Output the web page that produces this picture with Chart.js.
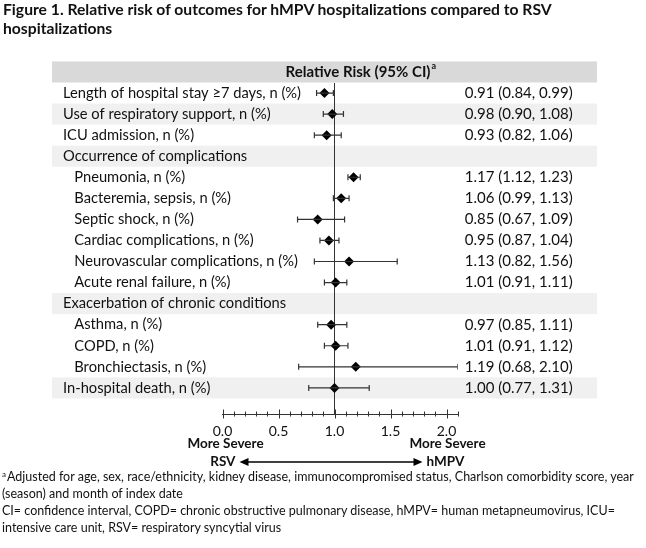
<!DOCTYPE html>
<html>
<head>
<meta charset="utf-8">
<script src="https://cdn.jsdelivr.net/npm/chart.js@4.4.1/dist/chart.umd.min.js"></script>
<style>
  html, body { margin: 0; padding: 0; background: #fff; }
  body { width: 646px; height: 548px; position: relative; overflow: hidden; font-family: Lato, sans-serif; color: #111; }
  #wrap { position: absolute; left: 0; top: 0; width: 646px; height: 548px; }
  #title { position: absolute; left: 3px; top: 0px; width: 640px; font-weight: bold; font-size: 15.7px; line-height: 19px; }
  #notes { position: absolute; left: 2px; top: 467.5px; width: 644px; font-size: 12.5px; line-height: 17.3px; white-space: nowrap; }
  #notes sup { font-size: 8px; vertical-align: 4px; line-height: 0; margin-right: 1px; }
</style>
</head>
<body>
<div id="wrap"><canvas id="forest" width="646" height="548"></canvas></div>
<div id="title">Figure 1. Relative risk of outcomes for hMPV hospitalizations compared to RSV<br>hospitalizations</div>
<div id="notes"><sup>a</sup>Adjusted for age, sex, race/ethnicity, kidney disease, immunocompromised status, Charlson comorbidity score, year<br>(season) and month of index date<br>CI= confidence interval, COPD= chronic obstructive pulmonary disease, hMPV= human metapneumovirus, ICU=<br>intensive care unit, RSV= respiratory syncytial virus</div>
<script>
// Lignes du tableau (de haut en bas)
const rowLabels = [
  "Length of hospital stay \u22657 days, n (%)",
  "Use of respiratory support, n (%)",
  "ICU admission, n (%)",
  "Occurrence of complications",
  "Pneumonia, n (%)",
  "Bacteremia, sepsis, n (%)",
  "Septic shock, n (%)",
  "Cardiac complications, n (%)",
  "Neurovascular complications, n (%)",
  "Acute renal failure, n (%)",
  "Exacerbation of chronic conditions",
  "Asthma, n (%)",
  "COPD, n (%)",
  "Bronchiectasis, n (%)",
  "In-hospital death, n (%)"
];
const indented = [0, 0, 0, 0, 1, 1, 1, 1, 1, 1, 0, 1, 1, 1, 0];
const shadedRows = [1, 3, 10, 14];
const rr     = [0.91, 0.98, 0.93, null, 1.17, 1.06, 0.85, 0.95, 1.13, 1.01, null, 0.97, 1.01, 1.19, 1.00];
const ciLow  = [0.84, 0.90, 0.82, null, 1.12, 0.99, 0.67, 0.87, 0.82, 0.91, null, 0.85, 0.91, 0.68, 0.77];
const ciHigh = [0.99, 1.08, 1.06, null, 1.23, 1.13, 1.09, 1.04, 1.56, 1.11, null, 1.11, 1.12, 2.10, 1.31];
const xMin = 0, xMax = 2.1;

const INK = "#111";
const LINE = "#333";
const FONT = "Lato";

function ciText(i) {
  if (rr[i] == null) return "";
  return `${rr[i].toFixed(2)} (${ciLow[i].toFixed(2)}, ${ciHigh[i].toFixed(2)})`;
}

// segments IC, séparés par des trous
const ciSegments = [];
const capPoints = [];
const rrPoints = [];
rr.forEach((v, i) => {
  if (v == null) return;
  ciSegments.push({ x: ciLow[i], y: i }, { x: ciHigh[i], y: i }, { x: null, y: null });
  capPoints.push({ x: ciLow[i], y: i }, { x: ciHigh[i], y: i });
  rrPoints.push({ x: v, y: i });
});

function rowTicks(scale) {
  scale.ticks = rowLabels.map((_, i) => ({ value: i }));
}

// Fond des lignes, en-tête, graduations et légende de l'axe
const tablePlugin = {
  id: "tableDeco",
  afterLayout(chart) {
    // laisse les libellés déborder à droite de l'axe gauche (pas de rognage)
    chart.scales.y.right = chart.width;
  },
  beforeDraw(chart) {
    const { ctx } = chart;
    const y = chart.scales.y;
    const left = 52, right = 597;
    ctx.save();
    ctx.fillStyle = "#d9d9d9";
    const hTop = y.getPixelForValue(-1.5), hBot = y.getPixelForValue(-0.5);
    ctx.fillRect(left, hTop, right - left, hBot - hTop);
    ctx.fillStyle = "#f0f0f0";
    shadedRows.forEach(i => {
      const t = y.getPixelForValue(i - 0.5), b = y.getPixelForValue(i + 0.5);
      ctx.fillRect(left, t, right - left, b - t);
    });
    ctx.restore();
  },
  afterDraw(chart) {
    const { ctx } = chart;
    const x = chart.scales.x, y = chart.scales.y;
    ctx.save();
    // en-tête
    const hy = y.getPixelForValue(-1);
    ctx.fillStyle = INK;
    ctx.textBaseline = "middle";
    ctx.font = `bold 15px ${FONT}`;
    const head = "Relative Risk (95% CI)";
    const w = ctx.measureText(head).width;
    const cx = 361;
    ctx.textAlign = "left";
    ctx.fillText(head, cx - w / 2 - 3, hy);
    ctx.font = `bold 9px ${FONT}`;
    ctx.fillText("a", cx + w / 2 - 2, hy - 6);

    // graduations qui croisent l'axe
    const base = x.top;
    ctx.strokeStyle = LINE;
    ctx.lineWidth = 1;
    x.ticks.forEach(t => {
      const px = Math.round(x.getPixelForValue(t.value)) + 0.5;
      const major = Math.abs(t.value * 2 - Math.round(t.value * 2)) < 1e-6;
      const h = major ? 4.5 : 2.5;
      ctx.beginPath();
      ctx.moveTo(px, base - h);
      ctx.lineTo(px, base + h);
      ctx.stroke();
    });

    // légende sous l'axe
    const x0 = x.getPixelForValue(0), x2 = x.getPixelForValue(2);
    ctx.fillStyle = INK;
    ctx.font = `bold 13.5px ${FONT}`;
    ctx.textAlign = "center";
    ctx.fillText("More Severe", x0 + 3, 444);
    ctx.fillText("More Severe", x2 + 1, 444);
    const a0 = x0 + 17, a1 = x2 - 24, ay = 462;
    ctx.textAlign = "right";
    ctx.fillText("RSV", a0 - 4, ay);
    ctx.textAlign = "left";
    ctx.fillText("hMPV", a1 + 4, ay);
    ctx.strokeStyle = "#000";
    ctx.lineWidth = 1.5;
    ctx.beginPath();
    ctx.moveTo(a0 + 6, ay);
    ctx.lineTo(a1 - 6, ay);
    ctx.stroke();
    ctx.fillStyle = "#000";
    ctx.beginPath();
    ctx.moveTo(a0, ay); ctx.lineTo(a0 + 9, ay - 4); ctx.lineTo(a0 + 9, ay + 4); ctx.closePath();
    ctx.moveTo(a1, ay); ctx.lineTo(a1 - 9, ay - 4); ctx.lineTo(a1 - 9, ay + 4); ctx.closePath();
    ctx.fill();
    ctx.restore();
  }
};

new Chart(document.getElementById("forest"), {
  type: "scatter",
  data: {
    datasets: [
      {
        type: "line",
        data: ciSegments,
        borderColor: LINE,
        borderWidth: 1.2,
        pointRadius: 0,
        spanGaps: false,
        yAxisID: "y"
      },
      {
        data: capPoints,
        pointStyle: "line",
        rotation: 90,
        radius: 3,
        borderColor: LINE,
        borderWidth: 1.2,
        yAxisID: "y"
      },
      {
        data: rrPoints,
        pointStyle: "rectRot",
        radius: 5,
        backgroundColor: "#000",
        borderColor: "#000",
        borderWidth: 0,
        yAxisID: "y"
      }
    ]
  },
  options: {
    responsive: false,
    animation: false,
    events: [],
    layout: { padding: { left: 63, top: 83, right: 0, bottom: 0 } },
    plugins: { legend: { display: false }, tooltip: { enabled: false } },
    scales: {
      x: {
        type: "linear",
        min: xMin,
        max: xMax,
        afterFit: s => { s.height = 134; },
        grid: {
          drawTicks: false,
          color: c => (c.tick && Math.abs(c.tick.value - 1) < 1e-6 ? LINE : "rgba(0,0,0,0)"),
          lineWidth: 1
        },
        border: { display: true, color: LINE, width: 1 },
        ticks: {
          stepSize: 0.1,
          autoSkip: false,
          maxRotation: 0,
          padding: 9,
          color: INK,
          font: { family: FONT, size: 14 },
          callback: v => (Math.abs(v * 2 - Math.round(v * 2)) < 1e-6 ? v.toFixed(1) : "")
        }
      },
      y: {
        type: "linear",
        position: "left",
        reverse: true,
        min: -0.476,
        max: 15.24,
        afterBuildTicks: rowTicks,
        afterFit: s => { s.width = 159.5; },
        grid: { display: false, drawTicks: false },
        border: { display: false },
        ticks: {
          autoSkip: false,
          crossAlign: "far",
          color: INK,
          font: { family: FONT, size: 14.7 },
          callback: (v, i) => (indented[i] ? "   " : "") + rowLabels[i]
        }
      },
      y2: {
        type: "linear",
        position: "right",
        reverse: true,
        min: -0.476,
        max: 15.24,
        afterBuildTicks: rowTicks,
        afterFit: s => { s.width = 188.3; },
        grid: { display: false, drawTicks: false },
        border: { display: false },
        ticks: {
          autoSkip: false,
          crossAlign: "near",
          padding: 7,
          color: INK,
          font: { family: FONT, size: 15 },
          callback: (v, i) => ciText(i)
        }
      }
    }
  },
  plugins: [tablePlugin]
});
</script>
</body>
</html>
